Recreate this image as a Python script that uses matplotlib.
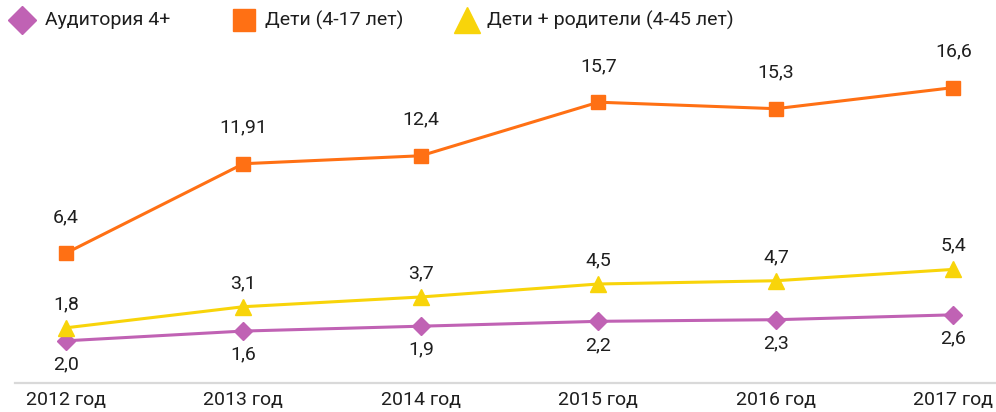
import matplotlib
matplotlib.use("Agg")
import matplotlib.pyplot as plt
from matplotlib.lines import Line2D

plt.rcParams['font.family'] = ['Roboto', 'DejaVu Sans']

years = ["2012 год", "2013 год", "2014 год", "2015 год", "2016 год", "2017 год"]

# Дети (4-17 лет)
kids = [6.4, 11.91, 12.4, 15.7, 15.3, 16.6]
kids_labels = ["6,4", "11,91", "12,4", "15,7", "15,3", "16,6"]

# Дети + родители (4-45 лет)
family = [1.8, 3.1, 3.7, 4.5, 4.7, 5.4]
family_labels = ["1,8", "3,1", "3,7", "4,5", "4,7", "5,4"]

# Аудитория 4+ (первая точка на графике стоит ниже своей подписи)
aud = [1.0, 1.6, 1.9, 2.2, 2.3, 2.6]
aud_labels = ["2,0", "1,6", "1,9", "2,2", "2,3", "2,6"]

names = ["Аудитория 4+", "Дети (4-17 лет)", "Дети + родители (4-45 лет)"]

c_orange = "#FF7014"
c_yellow = "#F8D40A"
c_purple = "#C062B4"
c_text = "#1E1E1E"

W, H = 996, 412
fig = plt.figure(figsize=(W / 100, H / 100), dpi=100)
ax = fig.add_axes([15 / W, 1 - 383 / H, 981 / W, 323 / H])

x = list(range(len(years)))

ax.plot(x, aud, color=c_purple, lw=2.2, marker="D", ms=9, zorder=3)
ax.plot(x, family, color=c_yellow, lw=2.2, marker="^", ms=12, zorder=3)
ax.plot(x, kids, color=c_orange, lw=2.2, marker="s", ms=10, zorder=3)

fs = 14
for xi, v, t in zip(x, kids, kids_labels):
    ax.annotate(t, (xi, v), xytext=(0, 26), textcoords="offset points",
                ha="center", va="center", fontsize=fs, color=c_text)
for xi, v, t in zip(x, family, family_labels):
    ax.annotate(t, (xi, v), xytext=(0, 17), textcoords="offset points",
                ha="center", va="center", fontsize=fs, color=c_text)
for xi, v, t in zip(x, aud, aud_labels):
    ax.annotate(t, (xi, v), xytext=(0, -17), textcoords="offset points",
                ha="center", va="center", fontsize=fs, color=c_text)

ax.set_xlim(-0.287, 5.24)
ax.set_ylim(-1.6, 18.3)
ax.set_xticks(x)
ax.set_xticklabels(years, fontsize=fs, color=c_text)
ax.set_yticks([])
ax.tick_params(axis="x", length=0, pad=6)
for side in ["top", "right", "left"]:
    ax.spines[side].set_visible(False)
ax.spines["bottom"].set_color("#D9D9D9")
ax.spines["bottom"].set_linewidth(1.6)

# легенда сверху, вручную
leg_markers = [("D", 14, c_purple, 22, 45), ("s", 16, c_orange, 244, 265),
               ("^", 19, c_yellow, 467, 487)]
for (m, ms, col, mx, tx), name in zip(leg_markers, names):
    fig.add_artist(Line2D([mx / W], [1 - 20 / H], ls="none", marker=m, ms=ms,
                          color=col, transform=fig.transFigure))
    fig.text(tx / W, 1 - 20 / H, name, fontsize=fs, color=c_text,
             ha="left", va="center")

fig.savefig("out.png", dpi=100)
